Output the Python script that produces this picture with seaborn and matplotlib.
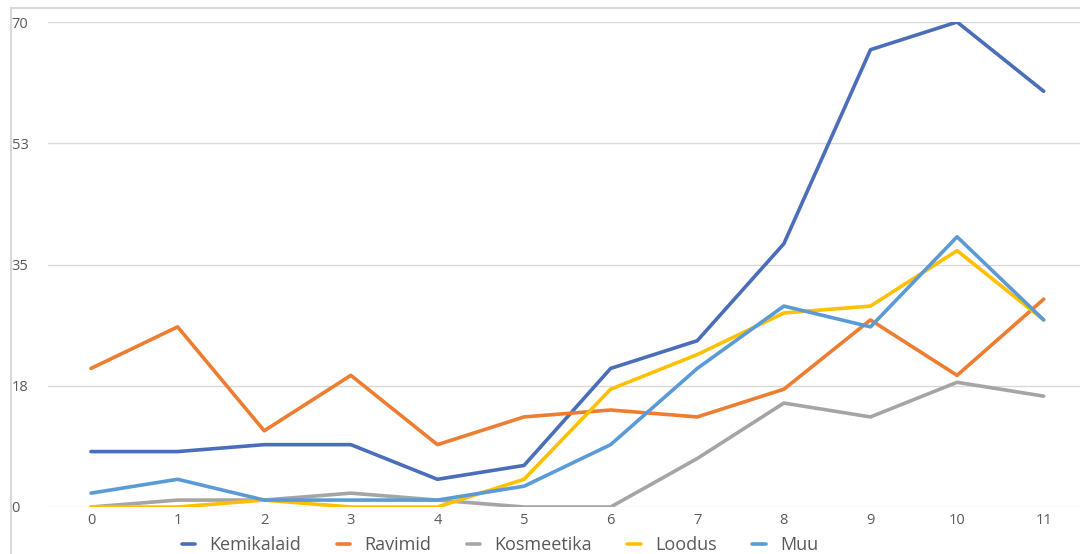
import pandas as pd
import matplotlib.pyplot as plt
import seaborn as sns
from matplotlib.patches import Rectangle

# andmed (loetud pildilt)
x_vals = list(range(12))
kemikalaid = [8, 8, 9, 9, 4, 6, 20, 24, 38, 66, 70, 60]
ravimid = [20, 26, 11, 19, 9, 13, 14, 13, 17, 27, 19, 30]
kosmeetika = [0, 1, 1, 2, 1, 0, 0, 7, 15, 13, 18, 16]
loodus = [0, 0, 1, 0, 0, 4, 17, 22, 28, 29, 37, 27]
muu = [2, 4, 1, 1, 1, 3, 9, 20, 29, 26, 39, 27]

series_names = ["Kemikalaid", "Ravimid", "Kosmeetika", "Loodus", "Muu"]
colors = ["#4A6EB9", "#ED7D31", "#A5A5A5", "#FFC000", "#5B9BD5"]
y_ticks = [0, 17.5, 35, 52.5, 70]
y_labels = ["0", "18", "35", "53", "70"]

df = pd.DataFrame({"x": x_vals, "Kemikalaid": kemikalaid, "Ravimid": ravimid,
                   "Kosmeetika": kosmeetika, "Loodus": loodus, "Muu": muu})
df_long = df.melt(id_vars="x", var_name="kategooria", value_name="väärtus")

sns.set_style("white")
plt.rcParams["font.family"] = ["Open Sans", "DejaVu Sans"]

fig = plt.figure(figsize=(10.8, 5.54), dpi=100)
ax = fig.add_axes([47.7 / 1080, 47 / 554, 1039.3 / 1080, 485 / 554])

sns.lineplot(data=df_long, x="x", y="väärtus", hue="kategooria",
             hue_order=series_names, palette=colors, linewidth=2.6, ax=ax,
             legend=False)

ax.set_xlim(-0.5, 11.5)
ax.set_ylim(0, 70)
ax.set_xticks(x_vals)
ax.set_yticks(y_ticks)
ax.set_yticklabels(y_labels)
ax.set_xlabel("")
ax.set_ylabel("")
ax.grid(axis="y", color="#D9D9D9", linewidth=1)
ax.set_axisbelow(True)
for s in ax.spines.values():
    s.set_visible(False)
ax.tick_params(axis="both", length=0, labelsize=10.5, colors="#595959")
ax.tick_params(axis="x", pad=4)
for lbl in ax.get_yticklabels():
    lbl.set_horizontalalignment("left")
ax.yaxis.set_tick_params(pad=26)

handles = [plt.Line2D([], [], color=c, linewidth=2.6) for c in colors]
fig.legend(handles, series_names, loc="center", ncol=5,
           bbox_to_anchor=(500 / 1080, 9 / 554), frameon=False,
           fontsize=13, handlelength=0.75, handletextpad=0.8,
           columnspacing=1.95, labelcolor="#595959")

fig.patches.append(Rectangle((11 / 1080, -0.1), 1.2, (554 - 8) / 554 + 0.1,
                             transform=fig.transFigure, fill=False,
                             edgecolor="#D9D9D9", linewidth=1.5))

fig.savefig("out.png", dpi=100)
